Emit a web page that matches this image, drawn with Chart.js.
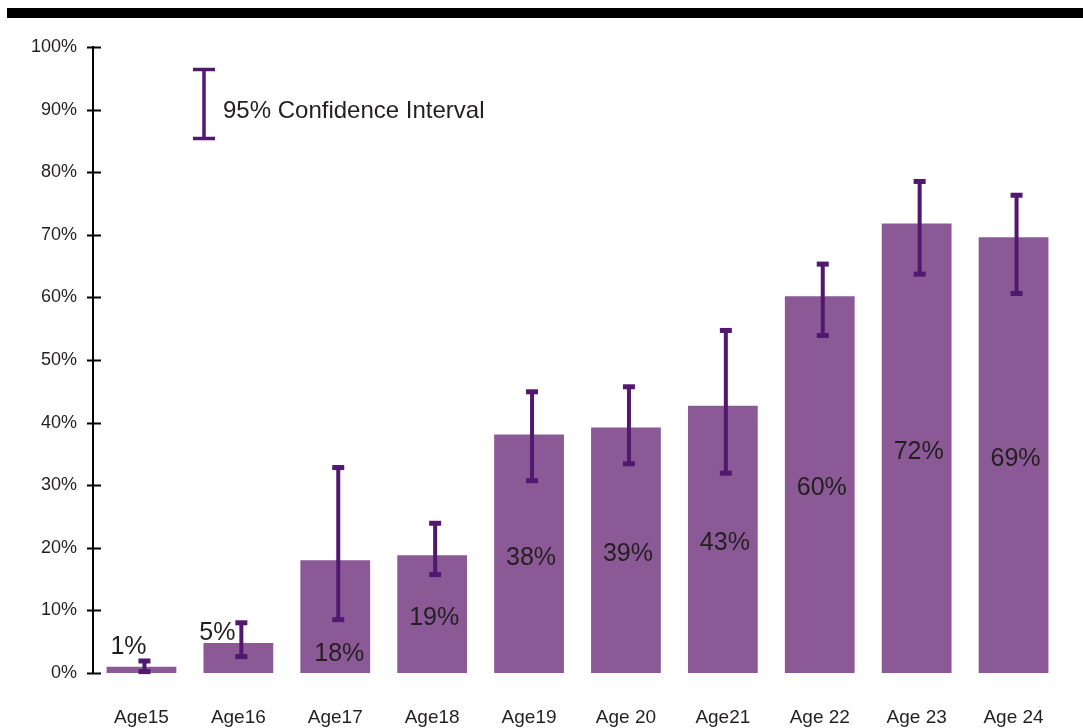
<!DOCTYPE html>
<html>
<head>
<meta charset="utf-8">
<script src="https://cdn.jsdelivr.net/npm/chart.js@4"></script>
<style>
  html, body { margin: 0; padding: 0; background: #fff; }
  #wrap { width: 1083px; height: 728px; }
</style>
</head>
<body>
<div id="wrap"><canvas id="bars"></canvas></div>
<script>
// values
const ageLabels = ['Age15', 'Age16', 'Age17', 'Age18', 'Age19', 'Age 20', 'Age21', 'Age 22', 'Age 23', 'Age 24'];
const percentValues = [1.0, 4.8, 18.0, 18.8, 38.1, 39.2, 42.7, 60.2, 71.8, 69.6];
const ciLower = [0.3, 2.7, 8.6, 15.8, 30.8, 33.5, 32.0, 54.0, 63.8, 60.7];
const ciUpper = [2.0, 8.1, 32.9, 24.0, 45.0, 45.8, 54.8, 65.4, 78.6, 76.4];
const valueLabels = ['1%', '5%', '18%', '19%', '38%', '39%', '43%', '60%', '72%', '69%'];
const legendText = '95% Confidence Interval';

var barColor = '#8b5a96';
var ciColor = '#52186e';
var textColor = '#231f20';
var fontName = '"Liberation Sans", Arial, sans-serif';

// thick black rule across the top
var topRule = {
	id: 'topRule',
	beforeDraw: (chart) => {
		var c = chart.ctx;
		c.save();
		c.fillStyle = '#000';
		c.fillRect(7, 8, chart.width - 7, 10);
		c.restore();
	}
};

// small ticks crossing the y axis
var yTickMarks = {
	id: 'yTickMarks',
	afterDraw: (chart) => {
		var c = chart.ctx;
		var y = chart.scales.y;
		var left = chart.chartArea.left;
		c.save();
		c.strokeStyle = '#000';
		c.lineWidth = 2;
		y.ticks.forEach(t => {
			var py = Math.round(y.getPixelForValue(t.value)) + 0.5;
			c.beginPath();
			c.moveTo(left - 6, py);
			c.lineTo(left + 8, py);
			c.stroke();
		});
		c.restore();
	}
};

// error bars drawn from the ci arrays through the scales
var errorBars = {
	id: 'errorBars',
	afterDatasetsDraw: (chart) => {
		var c = chart.ctx;
		var x = chart.scales.x;
		var y = chart.scales.y;
		c.save();
		c.strokeStyle = ciColor;
		c.fillStyle = ciColor;
		c.lineWidth = 4;
		ageLabels.forEach((lab, i) => {
			var px = x.getPixelForValue(i) + 3;
			var top = y.getPixelForValue(ciUpper[i]);
			var bot = y.getPixelForValue(ciLower[i]);
			c.beginPath();
			c.moveTo(px, top);
			c.lineTo(px, bot);
			c.stroke();
			c.fillRect(px - 6, top - 2, 12, 5);
			c.fillRect(px - 6, bot - 2, 12, 5);
		});
		c.restore();
	}
};

// percentage labels on the bars
var barLabels = {
	id: 'barLabels',
	afterDatasetsDraw: (chart) => {
		var c = chart.ctx;
		var x = chart.scales.x;
		var y = chart.scales.y;
		c.save();
		c.font = '25px ' + fontName;
		c.fillStyle = textColor;
		c.textAlign = 'center';
		c.textBaseline = 'middle';
		percentValues.forEach((v, i) => {
			var px = x.getPixelForValue(i) + 2;
			var py = (y.getPixelForValue(v) + y.getPixelForValue(0)) / 2 + 4;
			if (i == 0) { px = x.getPixelForValue(i) - 13; py = y.getPixelForValue(v) - 20; }
			if (i == 1) { px = x.getPixelForValue(i) - 21; py = y.getPixelForValue(v) - 10; }
			if (i == 2) { px = x.getPixelForValue(i) + 4; py = y.getPixelForValue(0) - 19; }
			c.fillText(valueLabels[i], px, py);
		});
		c.restore();
	}
};

// hand drawn legend: an error bar symbol and its text
var ciLegend = {
	id: 'ciLegend',
	afterDraw: (chart) => {
		var c = chart.ctx;
		c.save();
		c.strokeStyle = ciColor;
		c.lineWidth = 3.5;
		c.beginPath();
		c.moveTo(204, 69); c.lineTo(204, 139);
		c.moveTo(193, 69.5); c.lineTo(215, 69.5);
		c.moveTo(193, 138.5); c.lineTo(215, 138.5);
		c.stroke();
		c.font = '24px ' + fontName;
		c.fillStyle = textColor;
		c.textAlign = 'left';
		c.textBaseline = 'middle';
		c.fillText(legendText, 223, 111);
		c.restore();
	}
};

var ctx = document.getElementById('bars');

var bars = new Chart(ctx, {
	type: 'bar',
	data: {
		labels: ageLabels,
		datasets: [{
			data: percentValues,
			backgroundColor: barColor,
			borderWidth: 0,
			barPercentage: 0.72,
			categoryPercentage: 1.0
		}]
	},
	options: {
		responsive: true,
		maintainAspectRatio: false,
		animation: false,
		devicePixelRatio: 1,
		layout: {
			padding: { top: 47, right: 21, left: 0, bottom: 0 }
		},
		plugins: {
			legend: { display: false },
			tooltip: { enabled: false }
		},
		scales: {
			x: {
				grid: { display: false, drawTicks: false },
				border: { display: false },
				ticks: {
					color: textColor,
					font: { family: fontName, size: 19 },
					padding: 33,
					maxRotation: 0
				},
				afterFit: (s) => { s.height = 55; }
			},
			y: {
				min: 0,
				max: 100,
				grid: { display: false, drawTicks: false },
				border: { display: true, color: '#000', width: 2 },
				ticks: {
					stepSize: 10,
					color: textColor,
					font: { family: fontName, size: 18 },
					padding: 16,
					callback: (v) => v + '%'
				},
				afterFit: (s) => { s.width = 93; }
			}
		}
	},
	plugins: [topRule, errorBars, barLabels, yTickMarks, ciLegend]
});
</script>
</body>
</html>
